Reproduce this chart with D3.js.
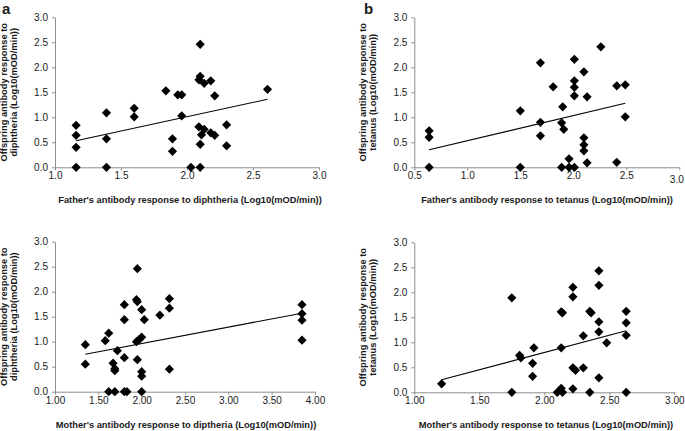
<!DOCTYPE html>
<html>
<head>
<meta charset="utf-8">
<script src="https://cdn.jsdelivr.net/npm/d3@7"></script>
<style>
  html, body { margin: 0; padding: 0; background: #fff; }
  svg { display: block; }
  text { font-family: "Liberation Sans", Arial, Helvetica, sans-serif; fill: #1a1a1a; }
</style>
</head>
<body>
<svg id="chart" width="685" height="431"></svg>
<script>
// ---------- Data ----------
// Panel a: father vs offspring, diphtheria
const aX = [1.16,1.16,1.16,1.16,1.39,1.39,1.39,1.60,1.60,1.84,1.93,1.96,1.89,1.89,1.96,2.03,2.10,2.10,2.09,2.13,2.18,2.21,2.09,2.13,2.11,2.10,2.10,2.18,2.21,2.30,2.30,2.61];
const aY = [0.84,0.64,0.40,0.00,1.09,0.57,0.00,1.18,1.01,1.53,1.45,1.45,0.57,0.32,1.03,0.00,2.46,1.82,1.75,1.68,1.73,1.43,0.81,0.76,0.65,0.46,0.00,0.69,0.64,0.85,0.43,1.56];
const aTrend = [[1.16,0.53],[2.61,1.36]];

// Panel b: father vs offspring, tetanus
const bX = [0.64,0.64,0.64,1.50,1.50,1.69,1.69,1.69,1.81,1.90,1.89,1.91,1.89,1.96,1.96,2.01,2.01,2.01,2.01,2.01,2.10,2.10,2.10,2.10,2.13,2.13,2.26,2.41,2.49,2.49,2.41];
const bY = [0.73,0.60,0.00,1.13,0.00,2.09,0.90,0.63,1.61,1.21,0.89,0.76,0.00,0.17,0.00,0.00,2.16,1.73,1.60,1.43,1.91,0.59,0.45,0.33,1.41,0.09,2.41,1.63,1.65,1.01,0.10];
const bTrend = [[0.64,0.35],[2.49,1.28]];

// Panel c: mother vs offspring, diphtheria
const cX = [1.35,1.35,1.58,1.62,1.62,1.67,1.69,1.69,1.69,1.72,1.80,1.80,1.80,1.80,1.83,1.95,1.94,1.95,2.00,2.03,1.94,1.97,2.00,1.95,2.00,2.00,2.00,2.21,2.32,2.32,2.32,3.85,3.85,3.85,3.85];
const cY = [0.94,0.55,1.02,1.17,0.00,0.57,0.46,0.42,0.00,0.82,1.74,1.44,0.68,0.00,0.00,2.46,1.84,1.80,1.64,1.44,1.00,1.04,1.09,0.64,0.40,0.31,0.00,1.53,1.86,1.67,0.45,1.74,1.56,1.43,1.03];
const cTrend = [[1.35,0.75],[3.85,1.57]];

// Panel d: mother vs offspring, tetanus
const dX = [1.21,1.75,1.75,1.81,1.82,1.92,1.91,1.91,2.13,2.14,2.13,2.10,2.13,2.14,2.22,2.22,2.22,2.24,2.22,2.30,2.30,2.35,2.36,2.35,2.42,2.42,2.42,2.42,2.42,2.48,2.63,2.63,2.63,2.63];
const dY = [0.17,1.89,0.00,0.74,0.69,0.89,0.58,0.32,1.61,1.59,0.89,0.00,0.08,0.00,2.10,1.91,0.49,0.44,0.07,1.13,0.49,1.62,1.59,0.00,2.43,2.14,1.41,1.21,0.29,0.99,1.62,1.39,1.14,0.00];
const dTrend = [[1.21,0.25],[2.63,1.23]];

// Tick values
const yTicks = [0, 0.5, 1.0, 1.5, 2.0, 2.5, 3.0];
const aXTicks = [1.0, 1.5, 2.0, 2.5, 3.0];
const bXTicks = [0.5, 1.0, 1.5, 2.0, 2.5, 3.0];
const cXTicks = [1.0, 1.5, 2.0, 2.5, 3.0, 3.5, 4.0];
const dXTicks = [1.0, 1.5, 2.0, 2.5, 3.0];

// Titles
const yTitleDiph = ["Offspring antibody response to", "diphtheria (Log10(mOD/min))"];
const yTitleTet = ["Offspring antibody response to", "tetanus (Log10(mOD/min))"];
const xTitleA = "Father's antibody response to diphtheria (Log10(mOD/min))";
const xTitleB = "Father's antibody response to tetanus (Log10(mOD/min))";
const xTitleC = "Mother's antibody response to diptheria (Log10(mOD/min))";
const xTitleD = "Mother's antibody response to tetanus (Log10(mOD/min))";

// ---------- Drawing ----------
const svg = d3.select("#chart");
const AXIS_COLOR = "#8e8e8e";

function panel(cfg) {
  const x = d3.scaleLinear().domain(cfg.xDomain).range(cfg.xRange);
  const y = d3.scaleLinear().domain([0, 3]).range(cfg.yRange);
  const g = svg.append("g");

  const xAxis = d3.axisBottom(x).tickValues(cfg.xTicks).tickFormat(d3.format(cfg.xFmt))
    .tickSize(3).tickPadding(2).tickSizeOuter(0);
  const gx = g.append("g").attr("transform", `translate(0,${cfg.yRange[0]})`).call(xAxis);
  const yAxis = d3.axisLeft(y).tickValues(yTicks).tickFormat(d3.format(".1f"))
    .tickSize(3).tickPadding(4).tickSizeOuter(0);
  const gy = g.append("g").attr("transform", `translate(${cfg.xRange[0]},0)`).call(yAxis);

  [gx, gy].forEach(a => {
    a.select(".domain").attr("stroke", AXIS_COLOR).attr("stroke-width", 1);
    a.selectAll(".tick line").attr("stroke", AXIS_COLOR);
    a.selectAll(".tick text").attr("font-size", 10).attr("fill", "#222")
      .style("font-family", '"Liberation Sans", Arial, sans-serif');
  });
  if (cfg.lastTickShift) {
    gx.selectAll(".tick").filter((d, i, n) => i === n.length - 1)
      .select("text").attr("y", 5 + cfg.lastTickShift[1]).attr("x", cfg.lastTickShift[0]);
  }

  // trend line
  g.append("path")
    .attr("d", d3.line().x(d => x(d[0])).y(d => y(d[1]))(cfg.trend))
    .attr("fill", "none").attr("stroke", "#000").attr("stroke-width", 1.1);

  // diamonds
  const sym = d3.symbol().type(d3.symbolSquare).size(42);
  g.append("g").selectAll("path").data(cfg.xs.map((v, i) => [v, cfg.ys[i]]))
    .join("path")
    .attr("d", sym)
    .attr("transform", d => `translate(${x(d[0])},${y(d[1])}) rotate(45)`)
    .attr("fill", "#000");

  // x title
  g.append("text")
    .attr("x", cfg.xTitleX).attr("y", cfg.xTitleY)
    .attr("text-anchor", "middle").attr("font-size", 9.3).attr("font-weight", "bold")
    .text(cfg.xTitle);

  // y title (two lines, rotated)
  const yc = (cfg.yRange[0] + cfg.yRange[1]) / 2;
  cfg.yTitle.forEach((line, i) => {
    g.append("text")
      .attr("transform", `translate(${cfg.yTitleX[i]},${yc}) rotate(-90)`)
      .attr("text-anchor", "middle").attr("font-size", 9.3).attr("font-weight", "bold")
      .text(line);
  });
}

panel({ xs: aX, ys: aY, trend: aTrend, xDomain: [1, 3], xRange: [55, 319], yRange: [167.3, 17.3],
  xTicks: aXTicks, xFmt: ".1f", xTitle: xTitleA, xTitleX: 190, xTitleY: 203,
  yTitle: yTitleDiph, yTitleX: [7, 17] });
panel({ xs: bX, ys: bY, trend: bTrend, xDomain: [0.5, 3], xRange: [414.3, 679.3], yRange: [167.3, 17.3],
  xTicks: bXTicks, xFmt: ".1f", xTitle: xTitleB, xTitleX: 547, xTitleY: 203, lastTickShift: [-3, 4],
  yTitle: yTitleTet, yTitleX: [365.5, 375.5] });
panel({ xs: cX, ys: cY, trend: cTrend, xDomain: [1, 4], xRange: [55, 315], yRange: [391.7, 241.7],
  xTicks: cXTicks, xFmt: ".2f", xTitle: xTitleC, xTitleX: 186, xTitleY: 428,
  yTitle: yTitleDiph, yTitleX: [7, 17] });
panel({ xs: dX, ys: dY, trend: dTrend, xDomain: [1, 3], xRange: [414.3, 674.3], yRange: [392.3, 242.3],
  xTicks: dXTicks, xFmt: ".2f", xTitle: xTitleD, xTitleX: 546, xTitleY: 428,
  yTitle: yTitleTet, yTitleX: [365.5, 375.5] });

// panel letters
svg.append("text").attr("x", 2).attr("y", 14).attr("font-size", 15).attr("font-weight", "bold").text("a");
svg.append("text").attr("x", 364).attr("y", 14).attr("font-size", 15).attr("font-weight", "bold").text("b");
</script>
</body>
</html>
